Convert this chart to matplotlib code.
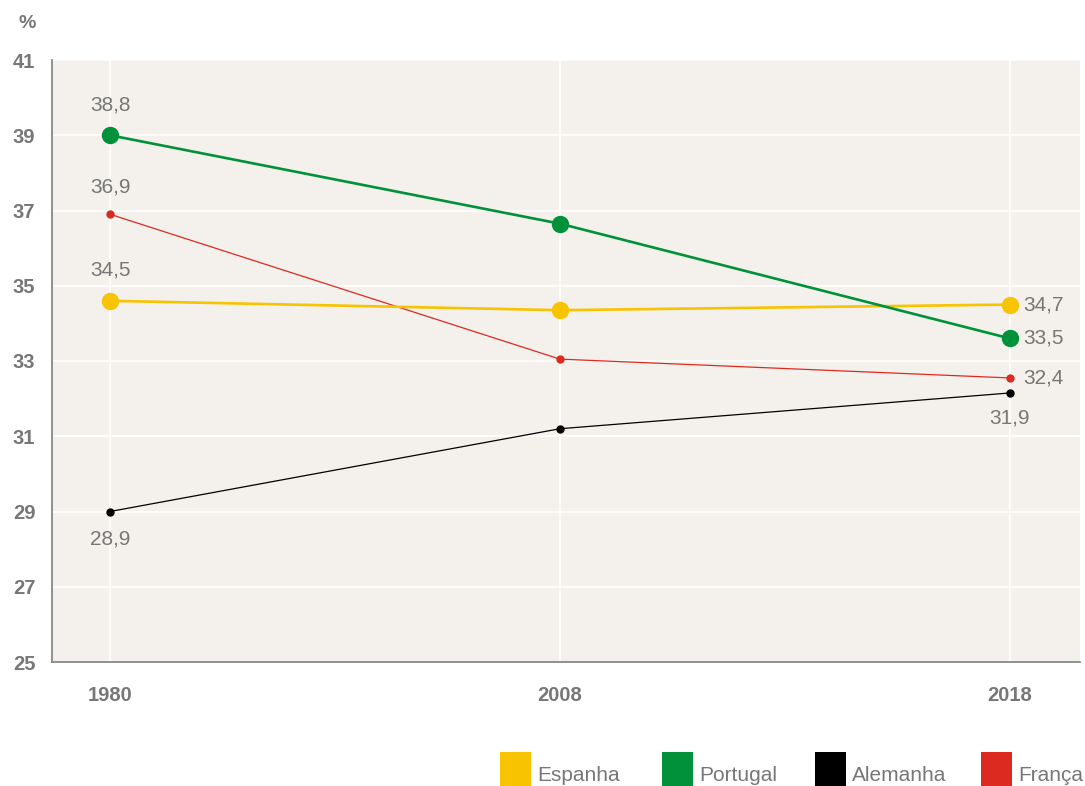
import matplotlib
matplotlib.use("Agg")
import matplotlib.pyplot as plt
from matplotlib.patches import Rectangle

plt.rcParams['font.family'] = ['Liberation Sans', 'DejaVu Sans']

years = ['1980', '2008', '2018']
x = [0, 1, 2]

series_names = ['Espanha', 'Portugal', 'Alemanha', 'França']
series_colors = ['#f8c300', '#00913a', '#000000', '#dc2a20']

espanha = [34.6, 34.35, 34.5]
portugal = [39.0, 36.65, 33.6]
alemanha = [29.0, 31.2, 32.15]
franca = [36.9, 33.05, 32.55]

espanha_labels = ['34,5', None, '34,7']
portugal_labels = ['38,8', None, '33,5']
alemanha_labels = ['28,9', None, '31,9']
franca_labels = ['36,9', None, '32,4']

y_ticks = [25, 27, 29, 31, 33, 35, 37, 39, 41]

gray = '#777777'
bg = '#f4f1ec'

fig = plt.figure(figsize=(10.85, 7.86), dpi=100)
ax = fig.add_axes([52 / 1085, 124 / 786, 1028 / 1085, 602 / 786])
ax.set_facecolor(bg)

ax.set_ylim(25, 41)
ax.set_xlim(-0.129, 2.156)
ax.set_yticks(y_ticks)
ax.set_xticks(x)
ax.set_yticklabels([str(t) for t in y_ticks], fontsize=14.5, fontweight='bold', color=gray)
ax.set_xticklabels(years, fontsize=14.5, fontweight='bold', color=gray)
ax.tick_params(axis='both', length=0)
ax.tick_params(axis='y', pad=12)
ax.tick_params(axis='x', pad=17)
ax.grid(True, color='white', linewidth=1.2)
ax.set_axisbelow(True)

for side in ['top', 'right']:
    ax.spines[side].set_visible(False)
for side in ['left', 'bottom']:
    ax.spines[side].set_color('#888888')
    ax.spines[side].set_linewidth(1.3)

data = [espanha, portugal, alemanha, franca]
labels = [espanha_labels, portugal_labels, alemanha_labels, franca_labels]
thick = [True, True, False, False]

# where each value label sits relative to its point (1980, 2018)
first_offsets = [(0, 15, 'bottom'), (0, 15, 'bottom'), (0, -13, 'top'), (0, 13, 'bottom')]
last_offsets = [(10, 0, 'left'), (10, 0, 'left'), (0, -11, 'top'), (10, 0, 'left')]

for vals, labs, color, big, fo, lo in zip(data, labels, series_colors, thick,
                                          first_offsets, last_offsets):
    ax.plot(x, vals, color=color, linewidth=1.9 if big else 0.9,
            marker='o', markersize=11.5 if big else 5, zorder=3 if big else 2)
    for i, lab in enumerate(labs):
        if lab is None:
            continue
        dx, dy, where = fo if i == 0 else lo
        if where == 'left':
            ha, va = 'left', 'center'
        else:
            ha, va = 'center', where
        ax.annotate(lab, (x[i], vals[i]), xytext=(dx, dy), textcoords='offset points',
                    ha=ha, va=va, fontsize=15, color=gray)

fig.text(18 / 1085, 1 - 23 / 786, '%', fontsize=14, fontweight='bold', color=gray,
         ha='left', va='center')

# legend squares along the bottom edge
legend_x = [500, 662, 815, 981]
for name, color, lx in zip(series_names, series_colors, legend_x):
    fig.patches.append(Rectangle((lx / 1085, 0), 31 / 1085, 34 / 786,
                                 transform=fig.transFigure, facecolor=color,
                                 edgecolor='none'))
    fig.text((lx + 37) / 1085, 1 / 786, name, fontsize=15, color=gray,
             ha='left', va='bottom')

fig.savefig('out.png', dpi=100)
